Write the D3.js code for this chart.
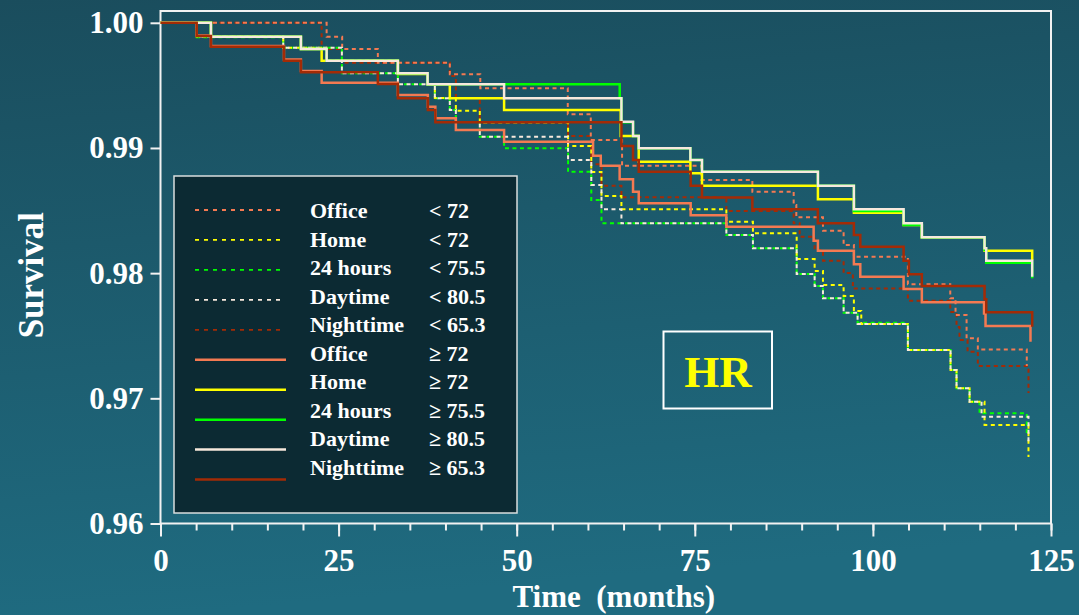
<!DOCTYPE html>
<html>
<head>
<meta charset="utf-8">
<script src="https://cdn.jsdelivr.net/npm/d3@7"></script>
<style>
  html, body { margin: 0; padding: 0; background: #1d5d6f; }
  svg { display: block; }
</style>
</head>
<body>
<svg id="chart" width="1079" height="615"></svg>
<script>
// ---- Categories and tick values ----
const measures = ["Office", "Home", "24 hours", "Daytime", "Nighttime"];
const cutoffs = ["72", "72", "75.5", "80.5", "65.3"];
const xTicks = [0, 25, 50, 75, 100, 125];
const yTicks = [0.96, 0.97, 0.98, 0.99, 1.00];

// ---- Kaplan-Meier curves: event times (months) and survival after each event ----
// Below the cut-off (dashed curves)
const officeLowT = [23.32, 25.50, 30.51, 40.61, 44.89, 57.17, 60.40, 64.79, 75.93, 83.08, 88.88, 89.25, 92.99, 95.89, 97.33, 104.91, 110.86, 111.60, 113.15, 114.73, 121.60];
const officeLowS = [0.99889, 0.99791, 0.99681, 0.99589, 0.99477, 0.99269, 0.99064, 0.98858, 0.98744, 0.98651, 0.98544, 0.98446, 0.98339, 0.98225, 0.98131, 0.97911, 0.97799, 0.97666, 0.97479, 0.97390, 0.97258];

const homeLowT = [5.08, 17.23, 23.32, 33.32, 37.49, 38.51, 41.46, 44.82, 57.21, 60.47, 61.90, 64.70, 79.43, 83.16, 89.30, 91.82, 92.99, 95.89, 97.33, 98.37, 104.91, 110.90, 111.74, 113.57, 115.67, 121.84];
const homeLowS = [0.99891, 0.99801, 0.99697, 0.99597, 0.99509, 0.99399, 0.99298, 0.99203, 0.99016, 0.98808, 0.98616, 0.98510, 0.98411, 0.98318, 0.98113, 0.98017, 0.97905, 0.97817, 0.97698, 0.97594, 0.97386, 0.97226, 0.97080, 0.96973, 0.96787, 0.96531];

const hoursLowT = [5.08, 17.23, 25.46, 33.32, 38.51, 40.61, 41.46, 44.82, 48.23, 57.21, 60.47, 61.90, 79.43, 83.16, 89.30, 91.82, 92.99, 95.89, 97.85, 104.91, 110.90, 111.74, 113.57, 114.97, 121.60];
const hoursLowS = [0.99884, 0.99801, 0.99597, 0.99509, 0.99397, 0.99303, 0.99207, 0.99090, 0.98997, 0.98810, 0.98584, 0.98398, 0.98305, 0.98198, 0.97993, 0.97897, 0.97799, 0.97684, 0.97604, 0.97386, 0.97226, 0.97080, 0.96973, 0.96880, 0.96723];

const dayLowT = [5.08, 17.23, 25.46, 33.32, 38.51, 40.61, 41.46, 44.82, 57.21, 60.47, 61.90, 64.70, 79.43, 83.16, 89.30, 91.82, 92.99, 95.89, 97.85, 104.91, 110.90, 111.74, 113.57, 115.25, 121.84];
const dayLowS = [0.99891, 0.99801, 0.99597, 0.99509, 0.99397, 0.99303, 0.99207, 0.99090, 0.98904, 0.98704, 0.98510, 0.98398, 0.98305, 0.98198, 0.97993, 0.97897, 0.97799, 0.97684, 0.97594, 0.97386, 0.97226, 0.97080, 0.96973, 0.96853, 0.96643];

const nightLowT = [22.62, 25.46, 40.61, 41.46, 44.82, 57.21, 60.47, 61.90, 64.70, 79.43, 88.88, 89.72, 91.82, 92.99, 95.89, 97.19, 104.91, 110.86, 111.74, 112.16, 113.29, 114.73, 121.84];
const nightLowS = [0.99791, 0.99681, 0.99575, 0.99397, 0.99205, 0.99096, 0.98870, 0.98699, 0.98606, 0.98496, 0.98398, 0.98291, 0.98185, 0.98099, 0.98001, 0.97877, 0.97780, 0.97690, 0.97570, 0.97466, 0.97372, 0.97258, 0.97042];

// At or above the cut-off (solid curves)
const officeHighT = [5.08, 7.08, 17.33, 19.71, 22.62, 33.32, 37.53, 38.58, 41.46, 48.23, 60.72, 61.80, 64.45, 66.33, 67.13, 74.42, 79.43, 91.68, 92.28, 97.33, 98.23, 104.31, 106.87, 115.60, 115.81, 122.12];
const officeHighS = [0.99899, 0.99815, 0.99707, 0.99615, 0.99521, 0.99423, 0.99330, 0.99237, 0.99144, 0.99050, 0.98938, 0.98858, 0.98750, 0.98651, 0.98558, 0.98462, 0.98371, 0.98259, 0.98179, 0.98071, 0.97972, 0.97873, 0.97767, 0.97678, 0.97578, 0.97452];

const homeHighT = [7.08, 19.71, 22.62, 33.32, 37.49, 40.61, 48.23, 64.60, 67.13, 74.38, 76.01, 92.28, 97.33, 104.31, 106.87, 115.67, 122.36];
const homeHighS = [0.99889, 0.99791, 0.99697, 0.99591, 0.99509, 0.99397, 0.99303, 0.99096, 0.98890, 0.98798, 0.98699, 0.98590, 0.98483, 0.98385, 0.98286, 0.98179, 0.98103];

const hoursHighT = [7.08, 19.71, 23.32, 33.32, 37.49, 64.46, 64.70, 66.33, 67.13, 74.38, 76.01, 92.28, 97.33, 104.31, 106.87, 115.67, 115.91, 122.36];
const hoursHighS = [0.99889, 0.99791, 0.99697, 0.99597, 0.99509, 0.99397, 0.99205, 0.99096, 0.98997, 0.98904, 0.98810, 0.98699, 0.98496, 0.98385, 0.98286, 0.98185, 0.98083, 0.97959];

const dayHighT = [7.08, 19.71, 23.32, 33.32, 37.49, 48.23, 64.70, 66.33, 67.13, 74.38, 76.01, 92.28, 97.33, 104.31, 106.87, 115.67, 115.91, 122.36];
const dayHighS = [0.99889, 0.99791, 0.99697, 0.99597, 0.99509, 0.99397, 0.99210, 0.99096, 0.98997, 0.98904, 0.98810, 0.98699, 0.98510, 0.98398, 0.98286, 0.98198, 0.98099, 0.97972];

const nightHighT = [5.08, 7.08, 17.33, 19.71, 30.51, 33.32, 37.53, 38.58, 64.70, 66.33, 67.13, 74.42, 76.01, 83.08, 92.27, 97.33, 98.23, 104.31, 105.05, 106.87, 115.67, 115.91, 122.36];
const nightHighS = [0.99895, 0.99809, 0.99697, 0.99605, 0.99511, 0.99397, 0.99303, 0.99205, 0.99016, 0.98904, 0.98810, 0.98699, 0.98604, 0.98511, 0.98398, 0.98305, 0.98211, 0.98099, 0.97991, 0.97897, 0.97791, 0.97687, 0.97572];

// ---- Colours, one per measurement setting ----
const palette = ["#f47a52", "#ffff00", "#00ff00", "#f7e9dd", "#a32b06"];

const lowTimes = [officeLowT, homeLowT, hoursLowT, dayLowT, nightLowT];
const lowSurv = [officeLowS, homeLowS, hoursLowS, dayLowS, nightLowS];
const highTimes = [officeHighT, homeHighT, hoursHighT, dayHighT, nightHighT];
const highSurv = [officeHighS, homeHighS, hoursHighS, dayHighS, nightHighS];

const svg = d3.select("#chart");
const W = 1079, H = 615;
const FONT = "'Liberation Serif', 'Times New Roman', serif";

// Background gradient
const defs = svg.append("defs");
const grad = defs.append("linearGradient").attr("id", "bg")
  .attr("x1", 0).attr("y1", 0).attr("x2", 0.15).attr("y2", 1);
grad.append("stop").attr("offset", "0%").attr("stop-color", "#1a4d5d");
grad.append("stop").attr("offset", "100%").attr("stop-color", "#1f6b80");
svg.append("rect").attr("width", W).attr("height", H).attr("fill", "url(#bg)");

// Scales
const x = d3.scaleLinear().domain([0, 125]).range([160.5, 1051]);
const y = d3.scaleLinear().domain([0.96, 1.00]).range([523.5, 22.8]);
const frameTop = 11;

// Plot frame
svg.append("rect")
  .attr("x", x(0)).attr("y", frameTop)
  .attr("width", x(125) - x(0)).attr("height", y(0.96) - frameTop)
  .attr("fill", "none").attr("stroke", "#f2f2f2").attr("stroke-width", 2);

// Y axis
const yAxis = svg.append("g").attr("transform", `translate(${x(0)},0)`)
  .call(d3.axisLeft(y).tickValues(yTicks).tickFormat(d3.format(".2f"))
    .tickSize(10).tickSizeOuter(0).tickPadding(7));
// X axis: minor ticks every 5 months, labelled major ticks every 25
const xMinor = svg.append("g").attr("transform", `translate(0,${y(0.96)})`)
  .call(d3.axisBottom(x).tickValues(d3.range(0, 126, 5)).tickFormat("")
    .tickSize(7).tickSizeOuter(0));
const xAxis = svg.append("g").attr("transform", `translate(0,${y(0.96)})`)
  .call(d3.axisBottom(x).tickValues(xTicks).tickFormat(d3.format("d"))
    .tickSize(13).tickSizeOuter(0));

[yAxis, xMinor, xAxis].forEach(g => {
  g.select(".domain").remove();
  g.selectAll(".tick line").attr("stroke", "#f2f2f2").attr("stroke-width", 2);
  g.selectAll("text").attr("fill", "#ffffff")
    .style("font-family", FONT).style("font-weight", "bold").style("font-size", "31px");
});
xAxis.selectAll("text").attr("y", 47).attr("dy", 0);

// Axis titles
svg.append("text")
  .attr("transform", `translate(43,${(y(0.96) + y(1.0)) / 2 + 2}) rotate(-90)`)
  .attr("text-anchor", "middle")
  .attr("fill", "#ffffff").style("font-family", FONT).style("font-weight", "bold")
  .style("font-size", "35px").text("Survival");
svg.append("text")
  .attr("x", (x(0) + x(125)) / 2 + 8).attr("y", 607)
  .attr("text-anchor", "middle")
  .attr("fill", "#ffffff").style("font-family", FONT).style("font-weight", "bold")
  .style("font-size", "31px").style("white-space", "pre")
  .text("Time  (months)");

// Survival curves
const stepLine = d3.line()
  .x(d => x(d[0])).y(d => y(d[1]))
  .curve(d3.curveStepAfter);
const curvePoints = (t, s) => [[0, 1]].concat(t.map((v, i) => [v, s[i]]));

const curves = svg.append("g").attr("fill", "none")
  .attr("stroke-linejoin", "miter").attr("stroke-linecap", "butt");

// dashed curves (below the cut-off): nighttime underneath, daytime on top
const lowOrder = [4, 0, 2, 1, 3];
const lowOffsets = [0, 5, 2.5, 0, 1];
lowOrder.forEach(i => {
  curves.append("path")
    .attr("d", stepLine(curvePoints(lowTimes[i], lowSurv[i])))
    .attr("stroke", palette[i]).attr("stroke-width", 2)
    .attr("stroke-dasharray", "4 3.5")
    .attr("stroke-dashoffset", lowOffsets[i]);
});
// solid curves (at or above the cut-off)
const highOrder = [0, 1, 2, 3, 4];
highOrder.forEach(i => {
  curves.append("path")
    .attr("d", stepLine(curvePoints(highTimes[i], highSurv[i])))
    .attr("stroke", palette[i]).attr("stroke-width", 2.5);
});

// Legend
const legend = svg.append("g");
legend.append("rect")
  .attr("x", 174).attr("y", 176).attr("width", 343).attr("height", 337)
  .attr("fill", "#0c2a33").attr("stroke", "#d9dede").attr("stroke-width", 1.5);

const rows = [];
measures.forEach((m, i) => rows.push({ label: m, value: "< " + cutoffs[i], color: palette[i], dashed: true }));
measures.forEach((m, i) => rows.push({ label: m, value: "\u2265 " + cutoffs[i], color: palette[i], dashed: false }));

rows.forEach((r, k) => {
  const ly = 210 + k * 29.95;
  const ty = 218 + k * 28.5;
  legend.append("line")
    .attr("x1", 195).attr("x2", r.dashed ? 282 : 286)
    .attr("y1", ly).attr("y2", ly)
    .attr("stroke", r.color).attr("stroke-width", r.dashed ? 1.8 : 2.5)
    .attr("stroke-dasharray", r.dashed ? "4 5" : null);
  legend.append("text").attr("x", 310).attr("y", ty)
    .attr("fill", "#ffffff").style("font-family", FONT).style("font-weight", "bold")
    .style("font-size", "22px").text(r.label);
  legend.append("text").attr("x", 429).attr("y", ty)
    .attr("fill", "#ffffff").style("font-family", FONT).style("font-weight", "bold")
    .style("font-size", "22px").text(r.value);
});

// HR label box
svg.append("rect")
  .attr("x", 663.5).attr("y", 331.5).attr("width", 108.5).attr("height", 77)
  .attr("fill", "none").attr("stroke", "#ffffff").attr("stroke-width", 2);
svg.append("text")
  .attr("x", 718).attr("y", 387).attr("text-anchor", "middle")
  .attr("fill", "#ffff00").style("font-family", FONT).style("font-weight", "bold")
  .style("font-size", "45px").text("HR");
</script>
</body>
</html>
